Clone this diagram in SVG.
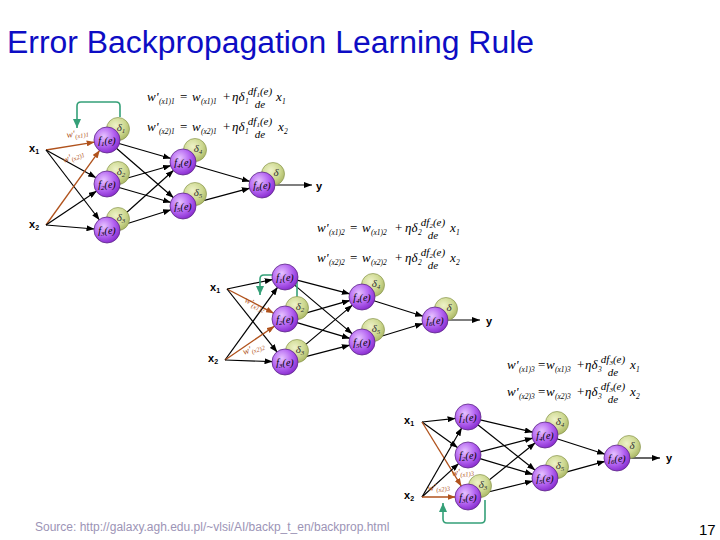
<svg xmlns="http://www.w3.org/2000/svg" width="720" height="540" viewBox="0 0 720 540">
<defs>
<radialGradient id="gp" cx="0.38" cy="0.35" r="0.7">
<stop offset="0" stop-color="#e6c2ff"/>
<stop offset="0.55" stop-color="#b566f2"/>
<stop offset="1" stop-color="#8528cc"/>
</radialGradient>
<radialGradient id="gd" cx="0.4" cy="0.35" r="0.7">
<stop offset="0" stop-color="#eef2c8"/>
<stop offset="0.6" stop-color="#cdd890"/>
<stop offset="1" stop-color="#a8b462"/>
</radialGradient>
<marker id="ab" markerWidth="8" markerHeight="6" refX="8" refY="3" orient="auto" markerUnits="userSpaceOnUse"><path d="M0,0 L8,3 L0,6 z" fill="#000"/></marker>
<marker id="ar" markerWidth="8" markerHeight="6" refX="8" refY="3" orient="auto" markerUnits="userSpaceOnUse"><path d="M0,0 L8,3 L0,6 z" fill="#b0521c"/></marker>
<marker id="ag" markerWidth="9" markerHeight="8" refX="9" refY="4" orient="auto" markerUnits="userSpaceOnUse"><path d="M0,0 L9,4 L0,8 z" fill="#35a078"/></marker>
<style>
.e{stroke:#000;stroke-width:1.2;fill:none;marker-end:url(#ab)}
.b{stroke:#b0521c;stroke-width:1.3;fill:none;marker-end:url(#ar)}
.g{stroke:#35a078;stroke-width:1.6;fill:none;marker-end:url(#ag)}
.pn{fill:url(#gp);stroke:#5e2a86;stroke-width:0.8}
.dn{fill:url(#gd);stroke:#8a9650;stroke-width:0.7}
.nt{font-family:"Liberation Serif",serif;font-style:italic;font-size:10px;fill:#000;text-anchor:middle}
.ns{font-size:7px}
.dt{font-family:"Liberation Serif",serif;font-style:italic;font-size:11px;fill:#333;text-anchor:middle}
.io{font-family:"Liberation Sans",Arial,sans-serif;font-weight:bold;font-size:11px;fill:#000}
.ios{font-size:7px}
.wl{font-family:"Liberation Serif",serif;font-style:italic;font-size:9.5px;fill:#b0521c}
.wls{font-size:6.5px}
.fm text{font-family:"Liberation Serif",serif;font-style:italic;font-size:13px;fill:#000}
.fm text.sb{font-size:7.5px}
.fm text.op{font-style:normal}
.fm text.c{text-anchor:middle;font-size:11px}
</style>
</defs>
<rect width="720" height="540" fill="#fff"/>
<text x="7" y="53" font-family="Liberation Sans, Arial, sans-serif" font-size="31" fill="#0d0dc4" textLength="527" lengthAdjust="spacingAndGlyphs">Error Backpropagation Learning Rule</text>

<!-- formulas -->
<g id="formulas">
<g class="fm" transform="translate(147,101)"><text x="0" y="0">w'</text><text class="sb" x="12" y="2.5">(x1)1</text><text class="op" x="33" y="0">=</text><text x="45" y="0">w</text><text class="sb" x="54" y="2.5">(x1)1</text><text class="op" x="76" y="0">+</text><text x="85" y="0">ηδ</text><text class="sb" x="98" y="2.5">1</text><text class="c" x="113" y="-6">df<tspan font-size="7" dy="2">1</tspan><tspan dy="-2">(e)</tspan></text><text class="c" x="113" y="7">de</text><text x="129" y="0">x</text><text class="sb" x="135" y="2.5">1</text></g>
<g class="fm" transform="translate(147,131)"><text x="0" y="0">w'</text><text class="sb" x="12" y="2.5">(x2)1</text><text class="op" x="33" y="0">=</text><text x="45" y="0">w</text><text class="sb" x="54" y="2.5">(x2)1</text><text class="op" x="76" y="0">+</text><text x="85" y="0">ηδ</text><text class="sb" x="98" y="2.5">1</text><text class="c" x="113" y="-6">df<tspan font-size="7" dy="2">1</tspan><tspan dy="-2">(e)</tspan></text><text class="c" x="113" y="7">de</text><text x="131" y="0">x</text><text class="sb" x="137" y="2.5">2</text></g>
<g class="fm" transform="translate(317,232)"><text x="0" y="0">w'</text><text class="sb" x="12" y="2.5">(x1)2</text><text class="op" x="33" y="0">=</text><text x="45" y="0">w</text><text class="sb" x="54" y="2.5">(x1)2</text><text class="op" x="78" y="0">+</text><text x="88" y="0">ηδ</text><text class="sb" x="101" y="2.5">2</text><text class="c" x="116" y="-6">df<tspan font-size="7" dy="2">2</tspan><tspan dy="-2">(e)</tspan></text><text class="c" x="116" y="7">de</text><text x="133" y="0">x</text><text class="sb" x="139" y="2.5">1</text></g>
<g class="fm" transform="translate(317,262)"><text x="0" y="0">w'</text><text class="sb" x="12" y="2.5">(x2)2</text><text class="op" x="33" y="0">=</text><text x="45" y="0">w</text><text class="sb" x="54" y="2.5">(x2)2</text><text class="op" x="78" y="0">+</text><text x="88" y="0">ηδ</text><text class="sb" x="101" y="2.5">2</text><text class="c" x="116" y="-6">df<tspan font-size="7" dy="2">2</tspan><tspan dy="-2">(e)</tspan></text><text class="c" x="116" y="7">de</text><text x="133" y="0">x</text><text class="sb" x="139" y="2.5">2</text></g>
<g class="fm" transform="translate(507,369)"><text x="0" y="0">w'</text><text class="sb" x="12" y="2.5">(x1)3</text><text class="op" x="31" y="0">=</text><text x="39" y="0">w</text><text class="sb" x="48" y="2.5">(x1)3</text><text class="op" x="70" y="0">+</text><text x="78" y="0">ηδ</text><text class="sb" x="91" y="2.5">3</text><text class="c" x="106" y="-6">df<tspan font-size="7" dy="2">3</tspan><tspan dy="-2">(e)</tspan></text><text class="c" x="106" y="7">de</text><text x="123" y="0">x</text><text class="sb" x="129" y="2.5">1</text></g>
<g class="fm" transform="translate(507,396)"><text x="0" y="0">w'</text><text class="sb" x="12" y="2.5">(x2)3</text><text class="op" x="31" y="0">=</text><text x="39" y="0">w</text><text class="sb" x="48" y="2.5">(x2)3</text><text class="op" x="70" y="0">+</text><text x="78" y="0">ηδ</text><text class="sb" x="91" y="2.5">3</text><text class="c" x="106" y="-6">df<tspan font-size="7" dy="2">3</tspan><tspan dy="-2">(e)</tspan></text><text class="c" x="106" y="7">de</text><text x="123" y="0">x</text><text class="sb" x="129" y="2.5">2</text></g>
</g>

<!-- connectors -->
<g id="connectors">
<!-- network 1 -->
<line class="b" x1="46" y1="150" x2="94.7" y2="142.1"/>
<line class="e" x1="46" y1="150" x2="96.1" y2="177.8"/>
<line class="e" x1="46" y1="150" x2="99.5" y2="220"/>
<line class="b" x1="46" y1="225" x2="99.8" y2="150.2"/>
<line class="e" x1="46" y1="225" x2="96.7" y2="191"/>
<line class="e" x1="46" y1="225" x2="94.5" y2="229"/>
<line class="e" x1="119" y1="143.5" x2="171" y2="158.5"/>
<line class="e" x1="116.4" y1="148.2" x2="173.6" y2="197.8"/>
<line class="e" x1="119" y1="180.5" x2="171" y2="165.5"/>
<line class="e" x1="119" y1="187.5" x2="171" y2="202.5"/>
<line class="e" x1="116.3" y1="221.7" x2="173.7" y2="170.3"/>
<line class="e" x1="118.9" y1="226.2" x2="171.1" y2="209.8"/>
<line class="e" x1="195" y1="165.5" x2="250" y2="181.5"/>
<line class="e" x1="195.1" y1="202.8" x2="249.9" y2="188.2"/>
<line class="e" x1="274.5" y1="185" x2="312" y2="185"/>
<path class="g" d="M120 117 V106 Q120 102 116 102 H81 Q77 102 77 106 V128"/>
<!-- network 2 -->
<line class="e" x1="227" y1="289" x2="272.7" y2="279.5"/>
<line class="b" x1="227" y1="289" x2="273.9" y2="313.3"/>
<line class="e" x1="227" y1="289" x2="277.2" y2="352.2"/>
<line class="e" x1="225" y1="360" x2="277.7" y2="287.1"/>
<line class="b" x1="225" y1="360" x2="274.7" y2="326"/>
<line class="e" x1="225" y1="360" x2="272.5" y2="361.6"/>
<line class="e" x1="297.1" y1="280.1" x2="349.9" y2="293.9"/>
<line class="e" x1="294.6" y1="285.1" x2="352.4" y2="333.9"/>
<line class="e" x1="297" y1="315.6" x2="350" y2="300.4"/>
<line class="e" x1="297" y1="322.6" x2="350" y2="338.4"/>
<line class="e" x1="294.6" y1="353.9" x2="352.4" y2="305.1"/>
<line class="e" x1="297.1" y1="358.9" x2="349.9" y2="345.1"/>
<line class="e" x1="373.9" y1="300.8" x2="423.1" y2="316.2"/>
<line class="e" x1="374" y1="338.5" x2="423" y2="323.5"/>
<line class="e" x1="447.5" y1="320" x2="480" y2="320"/>
<path class="g" d="M297 297 V279 Q297 275 293 275 H264 Q260 275 260 279 V295"/>
<!-- network 3 -->
<line class="e" x1="422" y1="422" x2="455.6" y2="418.4"/>
<line class="e" x1="422" y1="422" x2="457.8" y2="447.7"/>
<line class="b" x1="422" y1="422" x2="461.5" y2="486.4"/>
<line class="e" x1="422" y1="497" x2="461.8" y2="427.8"/>
<line class="e" x1="422" y1="497" x2="458.8" y2="463.4"/>
<line class="b" x1="422" y1="497" x2="455.5" y2="497"/>
<line class="e" x1="480.2" y1="419.8" x2="532.8" y2="432.2"/>
<line class="e" x1="477.8" y1="424.8" x2="535.2" y2="470.2"/>
<line class="e" x1="480.1" y1="451.9" x2="532.9" y2="438.1"/>
<line class="e" x1="480" y1="458.6" x2="533" y2="474.4"/>
<line class="e" x1="477.7" y1="489.2" x2="535.3" y2="442.8"/>
<line class="e" x1="480.1" y1="494" x2="532.9" y2="481"/>
<line class="e" x1="556.9" y1="438.8" x2="605.1" y2="454.2"/>
<line class="e" x1="557" y1="474.7" x2="605" y2="461.3"/>
<line class="e" x1="629.5" y1="458" x2="660" y2="458"/>
<path class="g" d="M485 500 V519 Q485 523 481 523 H447 Q443 523 443 519 V503"/>
</g>

<!-- weight labels -->
<g id="weights">
<text class="wl" x="67" y="138" transform="rotate(-9 67 138)">w'<tspan class="wls" dy="2">(x1)1</tspan></text>
<text class="wl" x="64" y="163" transform="rotate(-22 64 163)">w'<tspan class="wls" dy="2">(x2)1</tspan></text>
<text class="wl" x="244" y="302" transform="rotate(25 244 302)">w'<tspan class="wls" dy="2">(x1)2</tspan></text>
<text class="wl" x="244" y="355" transform="rotate(-20 244 355)">w'<tspan class="wls" dy="2">(x2)2</tspan></text>
<text class="wl" x="452" y="476" transform="rotate(-6 452 476)">w'<tspan class="wls" dy="2">(x1)3</tspan></text>
<text class="wl" x="428" y="491" transform="rotate(-6 428 491)">w'<tspan class="wls" dy="2">(x2)3</tspan></text>
</g>

<!-- inputs / outputs -->
<g id="io">
<text class="io" x="29" y="152">x<tspan class="ios" dy="2">1</tspan></text>
<text class="io" x="29" y="228">x<tspan class="ios" dy="2">2</tspan></text>
<text class="io" x="316" y="190">y</text>
<text class="io" x="210" y="291">x<tspan class="ios" dy="2">1</tspan></text>
<text class="io" x="208" y="362">x<tspan class="ios" dy="2">2</tspan></text>
<text class="io" x="486" y="325">y</text>
<text class="io" x="404" y="424">x<tspan class="ios" dy="2">1</tspan></text>
<text class="io" x="404" y="499">x<tspan class="ios" dy="2">2</tspan></text>
<text class="io" x="666" y="462">y</text>
</g>

<!-- network 1 nodes -->
<g id="n1-f1"><circle class="dn" cx="118" cy="129" r="11.5"/><text class="dt" x="121" y="131">δ<tspan class="ns" dy="2">1</tspan></text><circle class="pn" cx="107" cy="140" r="13"/><text class="nt" x="107" y="143.5">f<tspan class="ns" dy="2">1</tspan><tspan dy="-2">(e)</tspan></text></g>
<g id="n1-f2"><circle class="dn" cx="118" cy="173" r="11.5"/><text class="dt" x="121" y="175">δ<tspan class="ns" dy="2">2</tspan></text><circle class="pn" cx="107" cy="184" r="13"/><text class="nt" x="107" y="187.5">f<tspan class="ns" dy="2">2</tspan><tspan dy="-2">(e)</tspan></text></g>
<g id="n1-f3"><circle class="dn" cx="118" cy="219" r="11.5"/><text class="dt" x="121" y="221">δ<tspan class="ns" dy="2">3</tspan></text><circle class="pn" cx="107" cy="230" r="13"/><text class="nt" x="107" y="233.5">f<tspan class="ns" dy="2">3</tspan><tspan dy="-2">(e)</tspan></text></g>
<g id="n1-f4"><circle class="dn" cx="195" cy="150" r="11.5"/><text class="dt" x="198" y="152">δ<tspan class="ns" dy="2">4</tspan></text><circle class="pn" cx="183" cy="162" r="13"/><text class="nt" x="183" y="165.5">f<tspan class="ns" dy="2">4</tspan><tspan dy="-2">(e)</tspan></text></g>
<g id="n1-f5"><circle class="dn" cx="195" cy="194" r="11.5"/><text class="dt" x="198" y="196">δ<tspan class="ns" dy="2">5</tspan></text><circle class="pn" cx="183" cy="206" r="13"/><text class="nt" x="183" y="209.5">f<tspan class="ns" dy="2">5</tspan><tspan dy="-2">(e)</tspan></text></g>
<g id="n1-f6"><circle class="dn" cx="273" cy="174" r="11.5"/><text class="dt" x="276" y="176">δ</text><circle class="pn" cx="262" cy="185" r="13"/><text class="nt" x="262" y="188.5">f<tspan class="ns" dy="2">6</tspan><tspan dy="-2">(e)</tspan></text></g>

<!-- network 2 nodes -->
<g id="n2-f1"><circle class="pn" cx="285" cy="277" r="13"/><text class="nt" x="285" y="280.5">f<tspan class="ns" dy="2">1</tspan><tspan dy="-2">(e)</tspan></text></g>
<g id="n2-f2"><circle class="dn" cx="297" cy="308" r="11.5"/><text class="dt" x="300" y="310">δ<tspan class="ns" dy="2">2</tspan></text><circle class="pn" cx="285" cy="319" r="13"/><text class="nt" x="285" y="322.5">f<tspan class="ns" dy="2">2</tspan><tspan dy="-2">(e)</tspan></text></g>
<g id="n2-f3"><circle class="dn" cx="297" cy="351" r="11.5"/><text class="dt" x="300" y="353">δ<tspan class="ns" dy="2">3</tspan></text><circle class="pn" cx="285" cy="362" r="13"/><text class="nt" x="285" y="365.5">f<tspan class="ns" dy="2">3</tspan><tspan dy="-2">(e)</tspan></text></g>
<g id="n2-f4"><circle class="dn" cx="373" cy="285" r="11.5"/><text class="dt" x="376" y="287">δ<tspan class="ns" dy="2">4</tspan></text><circle class="pn" cx="362" cy="297" r="13"/><text class="nt" x="362" y="300.5">f<tspan class="ns" dy="2">4</tspan><tspan dy="-2">(e)</tspan></text></g>
<g id="n2-f5"><circle class="dn" cx="373" cy="330" r="11.5"/><text class="dt" x="376" y="332">δ<tspan class="ns" dy="2">5</tspan></text><circle class="pn" cx="362" cy="342" r="13"/><text class="nt" x="362" y="345.5">f<tspan class="ns" dy="2">5</tspan><tspan dy="-2">(e)</tspan></text></g>
<g id="n2-f6"><circle class="dn" cx="446" cy="309" r="11.5"/><text class="dt" x="449" y="311">δ</text><circle class="pn" cx="435" cy="320" r="13"/><text class="nt" x="435" y="323.5">f<tspan class="ns" dy="2">6</tspan><tspan dy="-2">(e)</tspan></text></g>

<!-- network 3 nodes -->
<g id="n3-f1"><circle class="pn" cx="468" cy="417" r="13"/><text class="nt" x="468" y="420.5">f<tspan class="ns" dy="2">1</tspan><tspan dy="-2">(e)</tspan></text></g>
<g id="n3-f2"><circle class="pn" cx="468" cy="455" r="13"/><text class="nt" x="468" y="458.5">f<tspan class="ns" dy="2">2</tspan><tspan dy="-2">(e)</tspan></text></g>
<g id="n3-f3"><circle class="dn" cx="480" cy="486" r="11.5"/><text class="dt" x="483" y="488">δ<tspan class="ns" dy="2">3</tspan></text><circle class="pn" cx="468" cy="497" r="13"/><text class="nt" x="468" y="500.5">f<tspan class="ns" dy="2">3</tspan><tspan dy="-2">(e)</tspan></text></g>
<g id="n3-f4"><circle class="dn" cx="557" cy="423" r="11.5"/><text class="dt" x="560" y="425">δ<tspan class="ns" dy="2">4</tspan></text><circle class="pn" cx="545" cy="435" r="13"/><text class="nt" x="545" y="438.5">f<tspan class="ns" dy="2">4</tspan><tspan dy="-2">(e)</tspan></text></g>
<g id="n3-f5"><circle class="dn" cx="557" cy="467" r="11.5"/><text class="dt" x="560" y="469">δ<tspan class="ns" dy="2">5</tspan></text><circle class="pn" cx="545" cy="478" r="13"/><text class="nt" x="545" y="481.5">f<tspan class="ns" dy="2">5</tspan><tspan dy="-2">(e)</tspan></text></g>
<g id="n3-f6"><circle class="dn" cx="629" cy="447" r="11.5"/><text class="dt" x="632" y="449">δ</text><circle class="pn" cx="617" cy="458" r="13"/><text class="nt" x="617" y="461.5">f<tspan class="ns" dy="2">6</tspan><tspan dy="-2">(e)</tspan></text></g>

<text x="35" y="531" font-family="Liberation Sans, Arial, sans-serif" font-size="12" fill="#9c94b6">Source: http://galaxy.agh.edu.pl/~vlsi/AI/backp_t_en/backprop.html</text>
<text x="699" y="535" font-family="Liberation Sans, Arial, sans-serif" font-size="15" fill="#000">17</text>
</svg>
